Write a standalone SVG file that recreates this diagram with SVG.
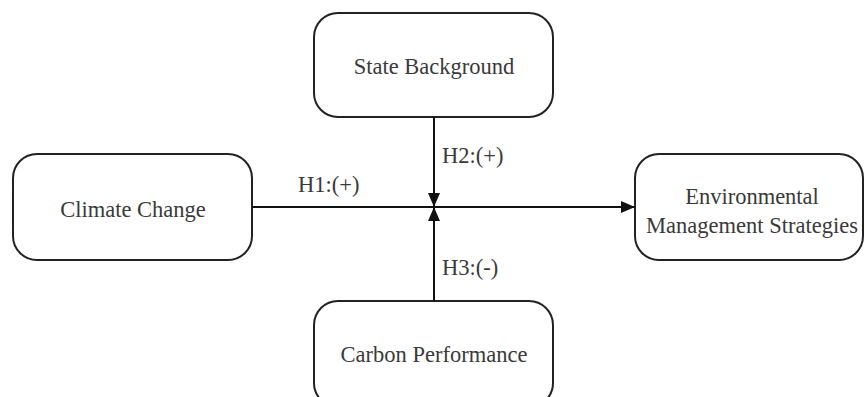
<svg xmlns="http://www.w3.org/2000/svg" width="865" height="397" viewBox="0 0 865 397">
<defs>
<style>
.box{fill:#fff;stroke:#222;stroke-width:2}
.t{font-family:"Liberation Serif","Times New Roman",serif;font-size:22.5px;fill:#3a3a3a;text-anchor:middle}
.lbl{font-family:"Liberation Serif","Times New Roman",serif;font-size:22.5px;fill:#3a3a3a}
.ln{stroke:#111;stroke-width:2;fill:none}
</style>
<marker id="ah" viewBox="0 0 14 12" refX="14" refY="6" markerWidth="14" markerHeight="12" markerUnits="userSpaceOnUse" orient="auto">
<path d="M0,0 L14,6 L0,12 Z" fill="#111"/>
</marker>
</defs>
<rect width="865" height="397" fill="#fff"/>
<g id="state-background">
<rect class="box" x="314" y="13" width="239" height="104" rx="24"/>
<text class="t" x="434" y="74">State Background</text>
</g>
<g id="climate-change">
<rect class="box" x="13" y="154" width="239" height="106" rx="24"/>
<text class="t" x="133" y="217">Climate Change</text>
</g>
<g id="environmental-management-strategies">
<rect class="box" x="635" y="154" width="228" height="106" rx="24"/>
<text class="t" x="752" y="204">Environmental</text>
<text class="t" x="752" y="233">Management Strategies</text>
</g>
<g id="carbon-performance">
<rect class="box" x="314" y="301" width="239" height="106" rx="24"/>
<text class="t" x="434" y="362">Carbon Performance</text>
</g>
<g id="connectors">
<line class="ln" x1="252" y1="207" x2="635" y2="207" marker-end="url(#ah)"/>
<line class="ln" x1="434" y1="117" x2="434" y2="207" marker-end="url(#ah)"/>
<line class="ln" x1="434" y1="301" x2="434" y2="207" marker-end="url(#ah)"/>
<text class="lbl" x="298" y="192">H1:(+)</text>
<text class="lbl" x="442" y="163">H2:(+)</text>
<text class="lbl" x="442" y="275">H3:(-)</text>
</g>
</svg>
